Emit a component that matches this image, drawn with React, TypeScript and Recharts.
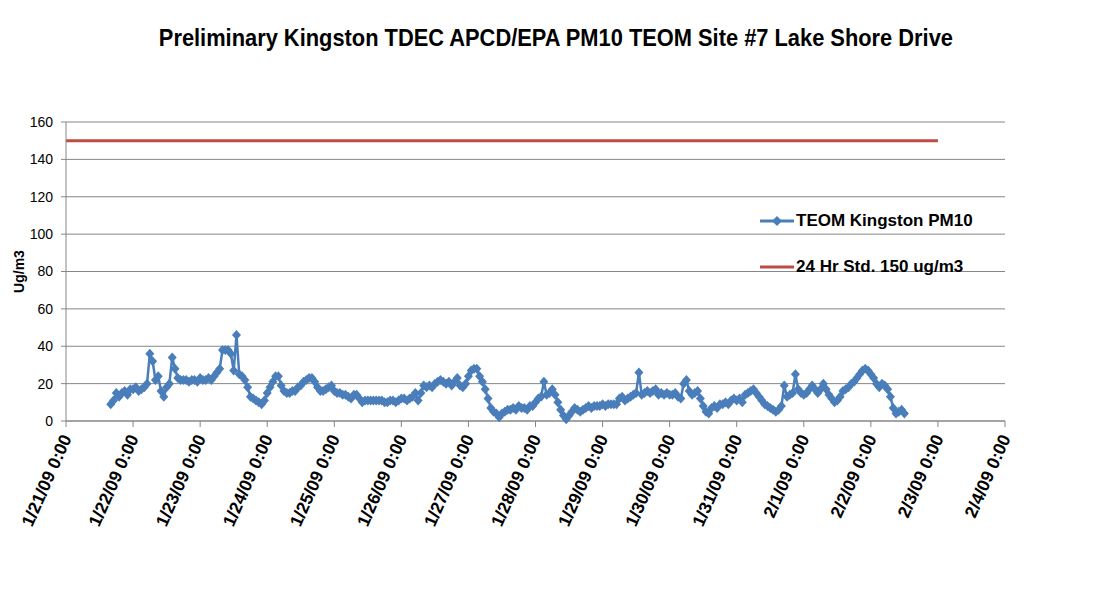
import { CartesianGrid, Line, LineChart, XAxis, YAxis } from "recharts";

const tickLabels = [
  "1/21/09 0:00",
  "1/22/09 0:00",
  "1/23/09 0:00",
  "1/24/09 0:00",
  "1/25/09 0:00",
  "1/26/09 0:00",
  "1/27/09 0:00",
  "1/28/09 0:00",
  "1/29/09 0:00",
  "1/30/09 0:00",
  "1/31/09 0:00",
  "2/1/09 0:00",
  "2/2/09 0:00",
  "2/3/09 0:00",
  "2/4/09 0:00",
];

const yTicks = [0, 20, 40, 60, 80, 100, 120, 140, 160];

// hourly TEOM readings (ug/m3), first day starts at 16:00
const firstHour = 16;
const pmJan21 = [9, 11, 15, 13, 15, 16, 14, 17];
const pmJan22 = [17, 18, 16, 17, 18, 20, 36, 32, 22, 24, 16, 13, 18, 20, 34, 28, 23, 22, 22, 22, 21, 22, 22, 21];
const pmJan23 = [23, 22, 22, 23, 22, 24, 26, 28, 38, 38, 38, 36, 27, 46, 25, 24, 22, 18, 13, 12, 11, 10, 9, 11];
const pmJan24 = [15, 18, 21, 24, 24, 19, 16, 15, 15, 16, 16, 18, 19, 21, 22, 23, 23, 21, 18, 16, 16, 17, 18, 19];
const pmJan25 = [16, 15, 15, 14, 14, 13, 12, 14, 14, 12, 10, 11, 11, 11, 11, 11, 11, 11, 10, 10, 11, 11, 10, 11];
const pmJan26 = [12, 12, 11, 12, 13, 15, 11, 15, 19, 18, 19, 18, 20, 21, 22, 21, 20, 21, 19, 21, 23, 19, 18, 20];
const pmJan27 = [24, 27, 28, 28, 24, 21, 17, 12, 7, 5, 4, 2, 4, 5, 6, 6, 7, 6, 8, 7, 7, 6, 8, 8];
const pmJan28 = [10, 12, 13, 21, 14, 15, 17, 14, 10, 6, 3, 1, 3, 5, 7, 6, 5, 6, 7, 8, 7, 8, 8, 8];
const pmJan29 = [9, 8, 9, 9, 9, 9, 12, 13, 11, 12, 13, 14, 15, 26, 14, 15, 16, 15, 16, 17, 14, 15, 14, 15];
const pmJan30 = [14, 14, 15, 13, 12, 20, 22, 16, 14, 15, 16, 12, 8, 5, 4, 7, 8, 7, 9, 9, 10, 9, 11, 12];
const pmJan31 = [11, 12, 10, 14, 15, 16, 17, 15, 13, 11, 9, 8, 7, 6, 5, 6, 8, 19, 13, 14, 15, 25, 17, 15];
const pmFeb01 = [14, 15, 17, 19, 17, 15, 17, 20, 17, 14, 12, 10, 11, 13, 16, 17, 18, 20, 21, 23, 25, 27, 28, 27];
const pmFeb02 = [25, 23, 20, 18, 20, 19, 17, 13, 7, 4, 5, 6, 4];

const pmDays = [pmJan21, pmJan22, pmJan23, pmJan24, pmJan25, pmJan26, pmJan27, pmJan28, pmJan29, pmJan30, pmJan31, pmFeb01, pmFeb02];

// 24 hr standard line
const stdValue = 150;
const stdDays = [0, 13];

const teomData = pmDays
  .flat()
  .map((v, i) => ({ h: firstHour + i, pm: v }));
const stdData = stdDays.map((d) => ({ h: d * 24, pm: stdValue }));
const xTicks = tickLabels.map((_, i) => i * 24);

const BLUE = "#4A7EBB";
const RED = "#BE4B48";
const GRID = "#868686";
const FONT = "'Liberation Sans', Arial, sans-serif";

function Diamond(props: any) {
  const { cx, cy } = props;
  if (cx == null || cy == null) return null;
  return (
    <path
      d={`M${cx},${cy - 5}L${cx + 4.5},${cy}L${cx},${cy + 5}L${cx - 4.5},${cy}Z`}
      fill={BLUE}
      stroke="none"
    />
  );
}

function DateTick({ x, y, payload }: any) {
  const label = tickLabels[Math.round(payload.value / 24)];
  return (
    <text
      transform={`translate(${x + 6},${y + 9}) rotate(-66)`}
      textAnchor="end"
      fontSize={17.5}
      fontWeight="bold"
      fontFamily={FONT}
      fill="#000"
    >
      {label}
    </text>
  );
}

export default function App() {
  return (
    <div style={{ position: "relative", width: 1088, height: 596, background: "#fff" }}>
      <div style={{ position: "absolute", left: -1, top: -8, width: 1, height: 604, background: "#9a9a9a" }} />
      <div
        style={{
          position: "absolute",
          left: 0,
          top: 16,
          width: 1096,
          textAlign: "center",
          fontFamily: FONT,
          fontWeight: "bold",
          fontSize: 24,
          color: "#000",
          transform: "scaleX(0.91)",
          transformOrigin: "547px 0",
        }}
      >
        Preliminary Kingston TDEC APCD/EPA PM10 TEOM Site #7 Lake Shore Drive
      </div>

      <LineChart
        width={1088}
        height={596}
        margin={{ top: 114, right: 91, bottom: 0, left: 0 }}
      >
        <CartesianGrid vertical={false} stroke={GRID} strokeWidth={1} />
        <XAxis
          type="number"
          dataKey="h"
          domain={[0, 336]}
          ticks={xTicks}
          interval={0}
          height={183}
          tickSize={6}
          tick={<DateTick />}
          axisLine={{ stroke: GRID }}
          tickLine={{ stroke: GRID }}
          allowDataOverflow
        />
        <YAxis
          type="number"
          domain={[0, 160]}
          ticks={yTicks}
          interval={0}
          width={58}
          tickSize={5}
          tickMargin={8}
          axisLine={{ stroke: GRID }}
          tickLine={{ stroke: GRID }}
          tick={{ fontSize: 14, fill: "#000", fontFamily: FONT }}
          label={{
            value: "Ug/m3",
            angle: -90,
            position: "insideLeft",
            dx: 6,
            style: { fontSize: 14, fontWeight: "bold", fill: "#000", fontFamily: FONT, textAnchor: "middle" },
          }}
        />
        <Line
          data={stdData}
          dataKey="pm"
          stroke={RED}
          strokeWidth={3}
          dot={false}
          isAnimationActive={false}
        />
        <Line
          data={teomData}
          dataKey="pm"
          stroke={BLUE}
          strokeWidth={2.5}
          dot={<Diamond />}
          activeDot={false}
          isAnimationActive={false}
        />
      </LineChart>

      <div
        style={{
          position: "absolute",
          left: 750,
          top: 201,
          fontFamily: FONT,
          fontWeight: "bold",
          fontSize: 17,
          color: "#000",
        }}
      >
        <div style={{ display: "flex", alignItems: "center", height: 24 }}>
          <svg width={38} height={14}>
            <line x1={2} y1={7} x2={36} y2={7} stroke={BLUE} strokeWidth={3} />
            <path d="M19,2L24,7L19,12L14,7Z" fill={BLUE} />
          </svg>
          <span>TEOM Kingston PM10</span>
        </div>
        <div style={{ display: "flex", alignItems: "center", height: 24, marginTop: 22 }}>
          <svg width={38} height={14}>
            <line x1={2} y1={7} x2={36} y2={7} stroke={RED} strokeWidth={3} />
          </svg>
          <span>24 Hr Std. 150 ug/m3</span>
        </div>
      </div>
    </div>
  );
}
